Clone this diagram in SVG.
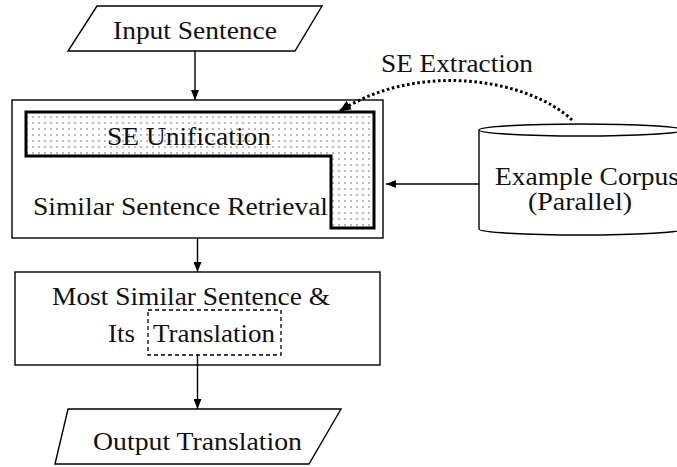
<svg xmlns="http://www.w3.org/2000/svg" width="677" height="467" viewBox="0 0 677 467">
  <style>
    .shape { fill: #fff; stroke: #000; stroke-width: 1.4; }
    .lbl { font-family: "Liberation Serif", "Times New Roman", serif; font-size: 25px; fill: #111; }
    .conn { fill: none; stroke: #000; stroke-width: 1.4; }
  </style>
  <defs>
    <marker id="arrow" viewBox="0 0 10 8" refX="10" refY="4" markerWidth="10" markerHeight="8" markerUnits="userSpaceOnUse" orient="auto">
      <path d="M0,0 L10,4 L0,8 Z" fill="#000"/>
    </marker>
    <marker id="arrowBig" viewBox="0 0 12 10" refX="11" refY="5" markerWidth="12" markerHeight="10" markerUnits="userSpaceOnUse" orient="auto">
      <path d="M0,0 L12,5 L0,10 Z" fill="#000"/>
    </marker>
    <pattern id="dots" width="6" height="6" patternUnits="userSpaceOnUse">
      <rect width="6" height="6" fill="#fff"/>
      <circle cx="3" cy="3" r="0.7" fill="#444"/>
    </pattern>
  </defs>

  <rect width="677" height="467" fill="#fff"/>

  <g id="input">
    <polygon class="shape" points="97,6 322,6 295,51 68,51"/>
    <text class="lbl" x="113" y="38.5" textLength="164" lengthAdjust="spacingAndGlyphs">Input Sentence</text>
  </g>

  <g id="retrieval">
    <rect class="shape" x="12" y="100" width="371" height="138"/>
    <text class="lbl" x="33" y="215" textLength="295" lengthAdjust="spacingAndGlyphs">Similar Sentence Retrieval</text>
  </g>

  <g id="unification">
    <path d="M26,112 H374 V228 H331 V156 H26 Z" fill="url(#dots)" stroke="#000" stroke-width="3" stroke-linejoin="miter"/>
    <text class="lbl" x="107" y="145" textLength="164" lengthAdjust="spacingAndGlyphs">SE Unification</text>
  </g>

  <g id="corpus">
    <path class="shape" d="M479,130 V229 A102,6 0 0 0 683,229 V130"/>
    <ellipse class="shape" cx="581" cy="130" rx="102" ry="6"/>
    <text class="lbl" x="495" y="185" textLength="184" lengthAdjust="spacingAndGlyphs">Example Corpus</text>
    <text class="lbl" x="528" y="210" textLength="104" lengthAdjust="spacingAndGlyphs">(Parallel)</text>
  </g>

  <g id="most-similar">
    <rect class="shape" x="15" y="272" width="365" height="93"/>
    <text class="lbl" x="52" y="305" textLength="278" lengthAdjust="spacingAndGlyphs">Most Similar Sentence &amp;</text>
    <text class="lbl" x="108" y="341.5" textLength="27" lengthAdjust="spacingAndGlyphs">Its</text>
    <rect x="148" y="310" width="133" height="45" fill="none" stroke="#000" stroke-width="1.3" stroke-dasharray="4 3"/>
    <text class="lbl" x="153" y="341.5" textLength="122" lengthAdjust="spacingAndGlyphs">Translation</text>
  </g>

  <g id="output">
    <polygon class="shape" points="68,409 341,409 309,464 55,464"/>
    <text class="lbl" x="93" y="450" textLength="209" lengthAdjust="spacingAndGlyphs">Output Translation</text>
  </g>

  <g id="connectors">
    <line class="conn" x1="195" y1="51" x2="195" y2="100" marker-end="url(#arrow)"/>
    <line class="conn" x1="197.5" y1="238" x2="197.5" y2="272" marker-end="url(#arrow)"/>
    <line class="conn" x1="197.5" y1="355" x2="197.5" y2="409" marker-end="url(#arrow)"/>
    <line class="conn" x1="479" y1="184" x2="386" y2="184" marker-end="url(#arrow)"/>
    <path d="M572,120 C530,80 420,60 340,111" fill="none" stroke="#000" stroke-width="3" stroke-dasharray="2.6 2.6" marker-end="url(#arrowBig)"/>
    <text class="lbl" x="381" y="72" textLength="152" lengthAdjust="spacingAndGlyphs">SE Extraction</text>
  </g>
</svg>
